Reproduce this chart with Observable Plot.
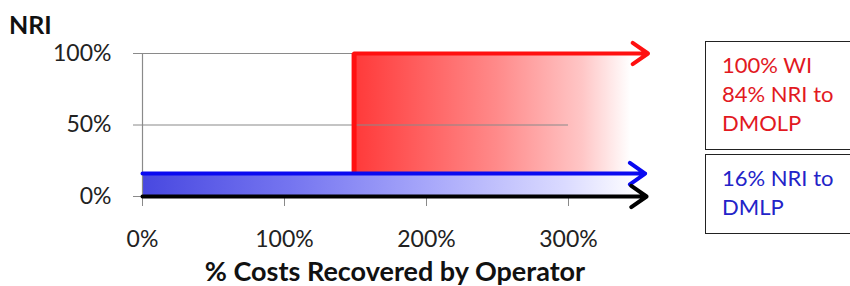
<!DOCTYPE html>
<html><head><meta charset="utf-8">
<script src="https://cdn.jsdelivr.net/npm/d3@7"></script>
<script src="https://cdn.jsdelivr.net/npm/@observablehq/plot@0.6"></script>
<style>
body{margin:0;background:#fff;}
#wrap{position:relative;width:850px;height:286px;overflow:hidden;font-family:Lato,"Open Sans",sans-serif;}
.t{position:absolute;white-space:nowrap;}
.box{position:absolute;border:1.5px solid #222;box-sizing:border-box;padding:8px 0 0 16px;font-size:22px;line-height:29px;}
</style>
</head><body>
<div id="wrap"></div>
<script>
const yTicks = [0, 50, 100];
const xTicks = [0, 100, 200, 300];
const gridLines = [{y: 100, x1: 0, x2: 150}, {y: 50, x1: 0, x2: 300}];
const redZone = [{x1: 150, x2: 350, y1: 16, y2: 100}];
const blueZone = [{x1: 0, x2: 350, y1: 0, y2: 16}];
const redStep = [{x: 149, y1: 16, y2: 100}];
const redArrow = [{x1: 149, x2: 356, y: 100}];
const blueArrow = [{x1: 0, x2: 354, y: 16}];
const blackArrow = [{x1: 0, x2: 355, y: 0}];
const legendRed = ["100% WI", "84% NRI to", "DMOLP"];
const legendBlue = ["16% NRI to", "DMLP"];

const plot = Plot.plot({
  width: 850, height: 286,
  marginLeft: 142, marginRight: 211, marginTop: 53, marginBottom: 90,
  style: {fontFamily: "Lato, 'Open Sans', sans-serif", fontSize: "23px", color: "#222", background: "transparent"},
  x: {domain: [0, 350]},
  y: {domain: [0, 100]},
  marks: [
    Plot.rect(redZone, {x1: "x1", x2: "x2", y1: "y1", y2: "y2", fill: "url(#redGrad)"}),
    Plot.rect(blueZone, {x1: "x1", x2: "x2", y1: "y1", y2: "y2", fill: "url(#blueGrad)"}),
    Plot.ruleY(gridLines, {y: "y", x1: "x1", x2: "x2", stroke: "#8a8a8a", strokeWidth: 1.2}),
    Plot.ruleX([0], {y1: 0, y2: 100, stroke: "#8a8a8a", strokeWidth: 1.2}),
    Plot.axisY({ticks: yTicks, tickFormat: d => d + "%", tickSize: 9, tickPadding: 22, stroke: "#8a8a8a", fill: "#222", label: null}),
    Plot.axisX({ticks: xTicks, tickFormat: d => d + "%", tickSize: 10, tickPadding: 24, stroke: "#8a8a8a", fill: "#222", label: null}),
    Plot.ruleX(redStep, {x: "x", y1: "y1", y2: "y2", stroke: "#ff1010", strokeWidth: 5}),
    Plot.arrow(redArrow, {x1: "x1", x2: "x2", y1: "y", y2: "y", stroke: "#ff1010", strokeWidth: 4, headLength: 7, headAngle: 70}),
    Plot.arrow(blueArrow, {x1: "x1", x2: "x2", y1: "y", y2: "y", stroke: "#0a0af0", strokeWidth: 4, headLength: 7, headAngle: 70}),
    Plot.arrow(blackArrow, {x1: "x1", x2: "x2", y1: "y", y2: "y", stroke: "#000", strokeWidth: 4, headLength: 7, headAngle: 70})
  ]
});

const svg = d3.select(plot);
const defs = svg.insert("defs", ":first-child");
const rg = defs.append("linearGradient").attr("id", "redGrad");
[[0, "#ff3a3a"], [0.5, "#ff8a8a"], [0.8, "#ffc6c6"], [0.97, "#ffffff"]].forEach(([o, c]) => rg.append("stop").attr("offset", o).attr("stop-color", c));
const bg = defs.append("linearGradient").attr("id", "blueGrad");
[[0, "#4848e0"], [0.3, "#7575f0"], [0.57, "#a6a6fa"], [0.85, "#dadaff"], [1, "#ffffff"]].forEach(([o, c]) => bg.append("stop").attr("offset", o).attr("stop-color", c));

const wrap = document.getElementById("wrap");
wrap.appendChild(plot);
plot.style.position = "absolute"; plot.style.left = "0"; plot.style.top = "0";

function addText(txt, css) {
  const d = document.createElement("div");
  d.className = "t"; d.textContent = txt; Object.assign(d.style, css);
  wrap.appendChild(d);
}
addText("NRI", {left: "9px", top: "9px", fontSize: "25px", fontWeight: "bold", color: "#111"});
addText("% Costs Recovered by Operator", {left: "395px", top: "254px", transform: "translateX(-50%)", fontSize: "27px", fontWeight: "bold", color: "#111"});

function addBox(lines, color, top, h) {
  const b = document.createElement("div");
  b.className = "box";
  Object.assign(b.style, {left: "705px", top: top + "px", width: "160px", height: h + "px", color});
  b.innerHTML = lines.map(l => `<div>${l}</div>`).join("");
  wrap.appendChild(b);
}
addBox(legendRed, "#e2191f", 41, 109);
addBox(legendBlue, "#2323c8", 154, 80);
</script>
</body></html>
